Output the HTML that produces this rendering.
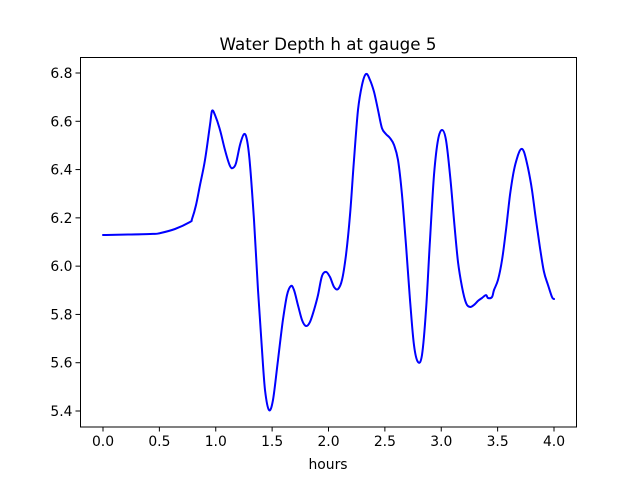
<!DOCTYPE html>
<html><head><meta charset="utf-8"><style>
body{margin:0;background:#fff}
svg text{font-family:"DejaVu Sans","Liberation Sans",sans-serif;fill:#000}
</style></head><body>
<svg id="chart" width="640" height="480" viewBox="0 0 640 480">
<rect x="0" y="0" width="640" height="480" fill="#fff"/>
<text x="328" y="50" font-size="16.7" text-anchor="middle">Water Depth h at gauge 5</text>
<g id="xticks"></g>
<g id="yticks"></g>
<text x="328" y="469" font-size="13.9" text-anchor="middle">hours</text>
<path id="line" fill="none" stroke="#0000ff" stroke-width="2" stroke-linejoin="round" stroke-linecap="round"/>
<rect x="80.5" y="57.5" width="496" height="369.5" fill="none" stroke="#000" stroke-width="1"/>
</svg>
<script>
const hours=[0.000,0.417,0.506,0.639,0.772,0.789,0.825,0.860,0.905,0.949,0.967,0.993,1.038,1.082,1.126,1.153,1.180,1.215,1.251,1.277,1.304,1.339,1.375,1.410,1.437,1.472,1.508,1.552,1.596,1.632,1.667,1.694,1.729,1.765,1.800,1.836,1.871,1.907,1.942,1.978,2.013,2.049,2.084,2.120,2.155,2.191,2.226,2.262,2.297,2.333,2.368,2.404,2.439,2.474,2.510,2.545,2.581,2.616,2.652,2.687,2.723,2.758,2.794,2.829,2.865,2.900,2.936,2.971,3.007,3.042,3.078,3.113,3.149,3.184,3.220,3.255,3.290,3.326,3.361,3.397,3.415,3.450,3.468,3.503,3.539,3.574,3.610,3.645,3.681,3.707,3.734,3.769,3.805,3.840,3.876,3.911,3.947,3.982,4.000];
const depth=[6.129,6.133,6.137,6.154,6.183,6.195,6.253,6.336,6.440,6.585,6.643,6.626,6.564,6.481,6.415,6.407,6.427,6.502,6.547,6.522,6.419,6.191,5.901,5.653,5.487,5.404,5.446,5.611,5.777,5.880,5.918,5.901,5.839,5.777,5.752,5.769,5.818,5.880,5.959,5.976,5.955,5.914,5.905,5.943,6.046,6.212,6.440,6.647,6.750,6.796,6.771,6.721,6.647,6.572,6.547,6.531,6.502,6.440,6.295,6.088,5.860,5.673,5.603,5.632,5.818,6.108,6.378,6.522,6.564,6.522,6.378,6.191,6.017,5.914,5.847,5.831,5.839,5.856,5.868,5.880,5.868,5.872,5.901,5.943,6.025,6.150,6.295,6.398,6.460,6.485,6.473,6.407,6.315,6.191,6.075,5.976,5.922,5.872,5.864];
const xTickLabels=["0.0","0.5","1.0","1.5","2.0","2.5","3.0","3.5","4.0"];
const yTickLabels=["5.4","5.6","5.8","6.0","6.2","6.4","6.6","6.8"];
function xs(v){return 103+v*112.75;}
function ys(v){return 73+(6.8-v)*241.43;}
const NS="http://www.w3.org/2000/svg";
const xg=document.getElementById('xticks'), yg=document.getElementById('yticks');
xTickLabels.forEach(t=>{
  const x=xs(parseFloat(t));
  const l=document.createElementNS(NS,'line');
  l.setAttribute('x1',x);l.setAttribute('x2',x);l.setAttribute('y1',427);l.setAttribute('y2',431.5);l.setAttribute('stroke','#000');
  
  
  xg.appendChild(l);
  const tx=document.createElementNS(NS,'text');
  tx.setAttribute('x',x);tx.setAttribute('y',446);tx.setAttribute('font-size','13.9');tx.setAttribute('text-anchor','middle');tx.textContent=t;
  
  
  xg.appendChild(tx);
});
yTickLabels.forEach(t=>{
  const y=ys(parseFloat(t));
  const l=document.createElementNS(NS,'line');
  l.setAttribute('x1',75.5);l.setAttribute('x2',80);l.setAttribute('y1',y);l.setAttribute('y2',y);l.setAttribute('stroke','#000');
  
  
  yg.appendChild(l);
  const tx=document.createElementNS(NS,'text');
  tx.setAttribute('x',72.5);tx.setAttribute('y',y+5);tx.setAttribute('font-size','13.9');tx.setAttribute('text-anchor','end');tx.textContent=t;
  
  
  yg.appendChild(tx);
});
const pts=hours.map((h,i)=>[xs(h),ys(depth[i])]);
let d='M'+pts[0][0].toFixed(1)+','+pts[0][1].toFixed(1);
for(let i=0;i<pts.length-1;i++){
  const p0=pts[Math.max(0,i-1)],p1=pts[i],p2=pts[i+1],p3=pts[Math.min(pts.length-1,i+2)];
  const c1=[p1[0]+(p2[0]-p0[0])/6,p1[1]+(p2[1]-p0[1])/6];
  const c2=[p2[0]-(p3[0]-p1[0])/6,p2[1]-(p3[1]-p1[1])/6];
  d+=' C'+c1[0].toFixed(1)+','+c1[1].toFixed(1)+' '+c2[0].toFixed(1)+','+c2[1].toFixed(1)+' '+p2[0].toFixed(1)+','+p2[1].toFixed(1);
}
document.getElementById('line').setAttribute('d',d);
</script>
</body></html>
